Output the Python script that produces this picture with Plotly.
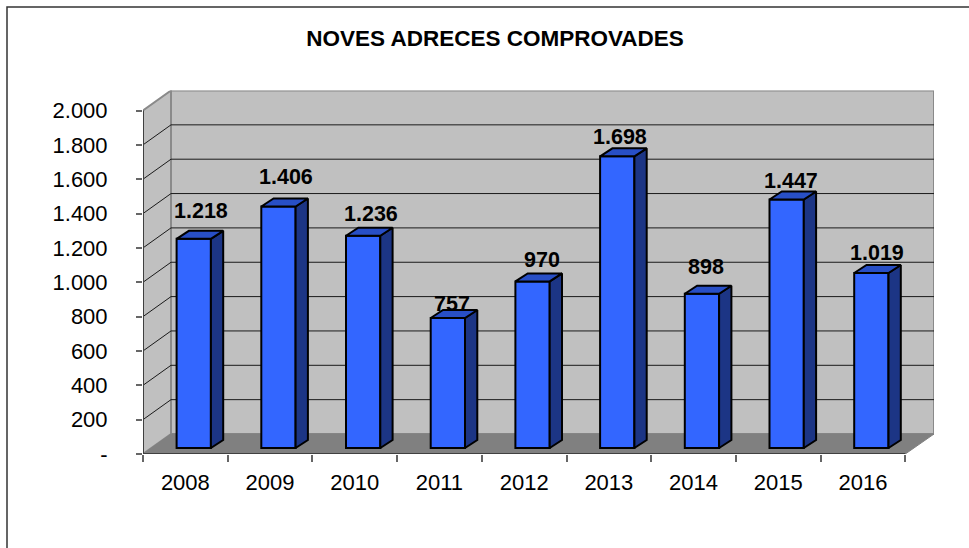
import plotly.graph_objects as go

# --- data ---
YEARS = ["2008", "2009", "2010", "2011", "2012", "2013", "2014", "2015", "2016"]
VALUES = [1218, 1406, 1236, 757, 970, 1698, 898, 1447, 1019]
VALUE_LABELS = ["1.218", "1.406", "1.236", "757", "970", "1.698", "898", "1.447", "1.019"]
TICK_VALUES = [0, 200, 400, 600, 800, 1000, 1200, 1400, 1600, 1800, 2000]
TICK_LABELS = ["-", "200", "400", "600", "800", "1.000", "1.200", "1.400", "1.600", "1.800", "2.000"]
TITLE = "NOVES ADRECES COMPROVADES"

# --- label nudges (px), as placed by hand in the original ---
LABEL_NUDGE_X = [7, 7.5, 8, 4, 9, 3, 4, 4, 5.5]
LABEL_NUDGE_Y = [28, 30, 21.4, 13.7, 21, 19, 26.5, 18, 20]

# --- geometry ---
W, H = 969, 548
PX_LEFT, PX_RIGHT_BACK, PX_TOP_BACK, PX_BOTTOM = 143, 934, 90.5, 454
CAT_PX = 84.7
UNIT_PX = 343.5 / 2000
WALL_DX = 28 / CAT_PX
WALL_DY = 20 / UNIT_PX
BAR_W = 34.3 / CAT_PX
BAR_OFF_X = 0.5 + 8.4 / CAT_PX
BAR_BASE = 6 / UNIT_PX
SIDE_DX = 12.3 / CAT_PX
SIDE_DY = 8 / UNIT_PX

XMAX = (PX_RIGHT_BACK - PX_LEFT) / CAT_PX
YMAX = (PX_BOTTOM - PX_TOP_BACK) / UNIT_PX
N = len(YEARS)

WALL = "#C0C0C0"
FLOOR = "#808080"
EDGE = "#8A8A8A"
GRID = "#1A1A1A"
AXIS = "#404040"
TICK = "#666666"
FRONT = "#3366FF"
SIDE = "#1C3585"
TOP = "#284FC6"
FONT = "Liberation Sans"

fig = go.Figure()


def poly(xs, ys, fill, line, width=1.5, layer="below"):
    path = "M " + " L ".join(f"{x},{y}" for x, y in zip(xs, ys)) + " Z"
    return dict(type="path", path=path, xref="x", yref="y", fillcolor=fill,
                line=dict(color=line, width=width), layer=layer)


shapes = [
    # outer frame, running off the right and bottom of the picture
    dict(type="rect", xref="paper", yref="paper", x0=7 / W, x1=1.02,
         y0=-0.02, y1=1 - 7 / H, line=dict(color="#333333", width=1.5),
         fillcolor="rgba(0,0,0,0)", layer="below"),
    # back wall
    poly([WALL_DX, XMAX, XMAX, WALL_DX], [WALL_DY, WALL_DY, YMAX, YMAX], WALL, EDGE, 2),
    # left wall
    poly([0, WALL_DX, WALL_DX, 0], [0, WALL_DY, YMAX, 2000], WALL, EDGE, 2),
    # floor
    poly([0, WALL_DX, XMAX, N], [0, WALL_DY, WALL_DY, 0], FLOOR, FLOOR, 1),
]
for t in TICK_VALUES[1:-1]:
    shapes.append(dict(type="line", xref="x", yref="y", x0=0, y0=t, x1=WALL_DX, y1=t + WALL_DY,
                       line=dict(color=GRID, width=1), layer="below"))
    shapes.append(dict(type="line", xref="x", yref="y", x0=WALL_DX, y0=t + WALL_DY, x1=XMAX, y1=t + WALL_DY,
                       line=dict(color=GRID, width=1), layer="below"))
# axis lines
shapes.append(dict(type="line", xref="x", yref="y", x0=0, y0=0, x1=0, y1=2000,
                   line=dict(color=AXIS, width=2), layer="below"))
shapes.append(dict(type="line", xref="x", yref="y", x0=0, y0=0, x1=N, y1=0,
                   line=dict(color=AXIS, width=2), layer="below"))

centres = [i + BAR_OFF_X for i in range(N)]

# front faces
fig.add_trace(go.Bar(
    x=centres, y=VALUES, base=[BAR_BASE] * N, width=BAR_W,
    marker=dict(color=FRONT, line=dict(color="#000000", width=2)),
    hoverinfo="skip", showlegend=False,
))

# side and top faces, derived from the same values
side_x, side_y, top_x, top_y = [], [], [], []
for c, v in zip(centres, VALUES):
    l, r = c - BAR_W / 2, c + BAR_W / 2
    b, t = BAR_BASE, BAR_BASE + v
    side_x += [r, r + SIDE_DX, r + SIDE_DX, r, r, None]
    side_y += [b, b + SIDE_DY, t + SIDE_DY, t, b, None]
    top_x += [l, l + SIDE_DX, r + SIDE_DX, r, l, None]
    top_y += [t, t + SIDE_DY, t + SIDE_DY, t, t, None]

for xs, ys, col in ((side_x, side_y, SIDE), (top_x, top_y, TOP)):
    fig.add_trace(go.Scatter(
        x=xs, y=ys, mode="lines", fill="toself", fillcolor=col,
        line=dict(color="#000000", width=2), hoverinfo="skip", showlegend=False,
    ))

annotations = [
    dict(x=c, y=BAR_BASE + v, xref="x", yref="y", text=lab, showarrow=False,
         xanchor="center", yanchor="middle", xshift=nx, yshift=ny,
         font=dict(family=FONT, size=21.5, color="#000000", weight="bold"))
    for c, v, lab, nx, ny in zip(centres, VALUES, VALUE_LABELS, LABEL_NUDGE_X, LABEL_NUDGE_Y)
]

fig.update_layout(
    width=W, height=H,
    margin=dict(l=0, r=0, t=0, b=0, pad=0, autoexpand=False),
    paper_bgcolor="#FFFFFF", plot_bgcolor="rgba(0,0,0,0)",
    showlegend=False, shapes=shapes, annotations=annotations,
    title=dict(text=TITLE, x=495 / W, y=1 - 38 / H, xanchor="center", yanchor="middle",
               xref="paper", yref="paper", automargin=False,
               font=dict(family=FONT, size=22.5, color="#000000", weight="bold")),
    xaxis=dict(
        domain=[PX_LEFT / W, PX_RIGHT_BACK / W], range=[0, XMAX], fixedrange=True, automargin=False,
        tickmode="array", tickvals=[i + 0.5 for i in range(N)], ticktext=YEARS,
        ticks="", showgrid=False, zeroline=False, showline=False, ticklabelstandoff=13,
        tickfont=dict(family=FONT, size=22, color="#000000"),
        minor=dict(tick0=0, dtick=1, ticks="outside", ticklen=7, tickcolor=TICK, tickwidth=1.5, showgrid=False),
    ),
    yaxis=dict(
        domain=[1 - PX_BOTTOM / H, 1 - PX_TOP_BACK / H], range=[0, YMAX], fixedrange=True, automargin=False,
        tickmode="array", tickvals=TICK_VALUES, ticktext=TICK_LABELS,
        ticks="outside", ticklen=6, tickcolor=TICK, tickwidth=1.5,
        showgrid=False, zeroline=False, showline=False, ticklabelstandoff=24,
        tickfont=dict(family=FONT, size=22, color="#000000"),
    ),
)

fig.write_html("out.html", post_script="document.body.style.margin='0';", config=dict(displayModeBar=False))
